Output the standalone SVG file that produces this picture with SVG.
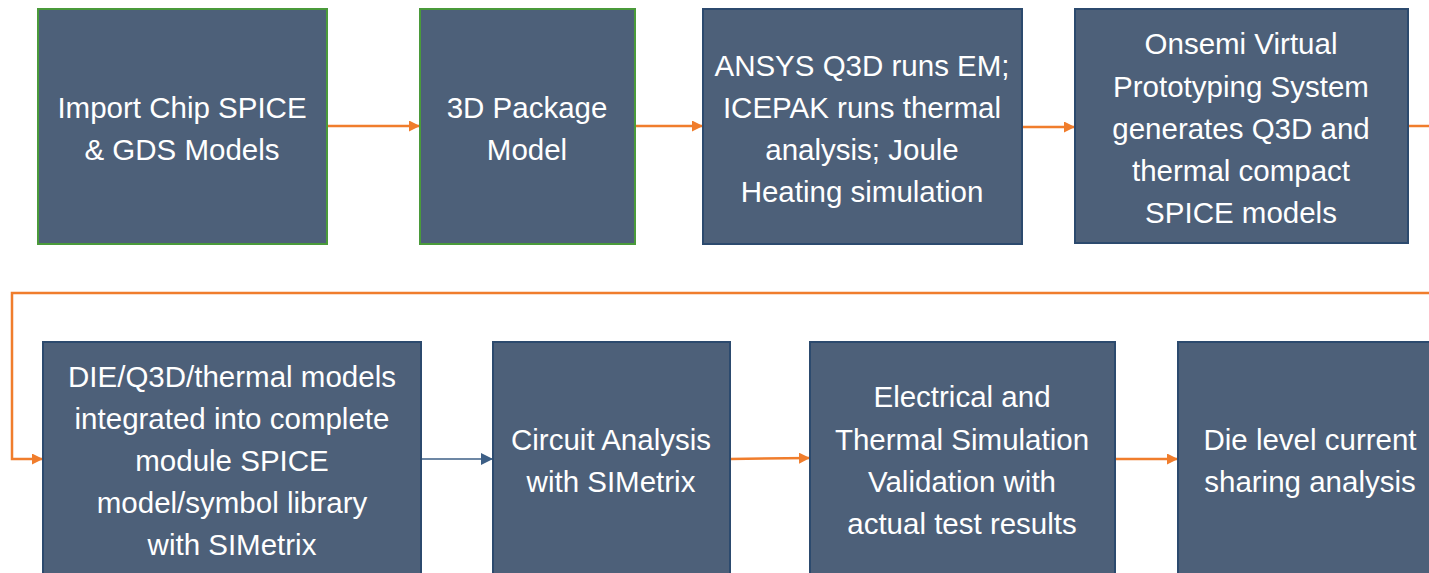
<svg xmlns="http://www.w3.org/2000/svg" width="1429" height="573" viewBox="0 0 1429 573">
<style>
.box{fill:#4d6079;stroke:#2c4a6e;stroke-width:2}
.g{stroke:#4a9a3a}
.t{fill:#ffffff;font-family:"Liberation Sans",Arial,sans-serif;font-size:29.5px;text-anchor:middle}
.c{fill:none;stroke:#f07d2c;stroke-width:2.5}
.cb{fill:none;stroke:#3d5f86;stroke-width:1.5}
</style>
<defs>
<marker id="ao" viewBox="0 0 10 10" refX="10" refY="5" markerWidth="4.4" markerHeight="4.4" orient="auto" markerUnits="strokeWidth"><path d="M0,0L10,5L0,10z" fill="#f07d2c"/></marker>
<marker id="ab" viewBox="0 0 10 10" refX="10" refY="5" markerWidth="8" markerHeight="8" orient="auto" markerUnits="strokeWidth"><path d="M0,0L10,5L0,10z" fill="#3d5f86"/></marker>
</defs>
<rect width="1429" height="573" fill="#ffffff"/>
<g id="connectors">
<line class="c" x1="327" y1="126" x2="420" y2="126" marker-end="url(#ao)"/>
<line class="c" x1="635" y1="126" x2="703" y2="126" marker-end="url(#ao)"/>
<line class="c" x1="1022" y1="127" x2="1075" y2="127" marker-end="url(#ao)"/>
<line class="c" x1="1408" y1="126" x2="1429" y2="126"/>
<polyline class="c" points="1429,293 12,293 12,459 43,459" marker-end="url(#ao)"/>
<line class="cb" x1="421" y1="459" x2="493" y2="459" marker-end="url(#ab)"/>
<line class="c" x1="730" y1="459" x2="810" y2="458" marker-end="url(#ao)"/>
<line class="c" x1="1115" y1="459" x2="1178" y2="459" marker-end="url(#ao)"/>
</g>
<g id="n1"><rect class="box g" x="38" y="9" width="289" height="235"/>
<text class="t" x="182" y="118">Import Chip SPICE</text><text class="t" x="182" y="160">&amp; GDS Models</text></g>
<g id="n2"><rect class="box g" x="420" y="9" width="215" height="235"/>
<text class="t" x="527" y="118">3D Package</text><text class="t" x="527" y="160">Model</text></g>
<g id="n3"><rect class="box" x="703" y="9" width="319" height="235"/>
<text class="t" x="862" y="76">ANSYS Q3D runs EM;</text><text class="t" x="862" y="118">ICEPAK runs thermal</text><text class="t" x="862" y="160">analysis; Joule</text><text class="t" x="862" y="202">Heating simulation</text></g>
<g id="n4"><rect class="box" x="1075" y="9" width="333" height="234"/>
<text class="t" x="1241" y="54">Onsemi Virtual</text><text class="t" x="1241" y="97">Prototyping System</text><text class="t" x="1241" y="139">generates Q3D and</text><text class="t" x="1241" y="181">thermal compact</text><text class="t" x="1241" y="223">SPICE models</text></g>
<g id="n5"><rect class="box" x="43" y="342" width="378" height="240"/>
<text class="t" x="232" y="387">DIE/Q3D/thermal models</text><text class="t" x="232" y="429">integrated into complete</text><text class="t" x="232" y="471">module SPICE</text><text class="t" x="232" y="513">model/symbol library</text><text class="t" x="232" y="555">with SIMetrix</text></g>
<g id="n6"><rect class="box" x="493" y="342" width="237" height="240"/>
<text class="t" x="611" y="450">Circuit Analysis</text><text class="t" x="611" y="492">with SIMetrix</text></g>
<g id="n7"><rect class="box" x="810" y="342" width="305" height="240"/>
<text class="t" x="962" y="407">Electrical and</text><text class="t" x="962" y="450">Thermal Simulation</text><text class="t" x="962" y="492">Validation with</text><text class="t" x="962" y="534">actual test results</text></g>
<g id="n8"><rect class="box" x="1178" y="342" width="260" height="240"/>
<text class="t" x="1310" y="450">Die level current</text><text class="t" x="1310" y="492">sharing analysis</text></g>
</svg>
